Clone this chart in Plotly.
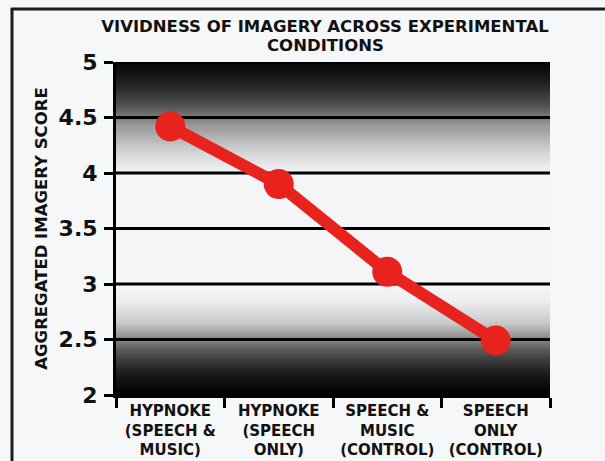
import numpy as np
import plotly.graph_objects as go

# ---- data ----
categories = ["Hypnoke (speech & music)", "Hypnoke (speech only)",
              "Speech & music (control)", "Speech only (control)"]
tick_labels = ["HYPNOKE<br>(SPEECH &<br>MUSIC)", "HYPNOKE<br>(SPEECH<br>ONLY)",
               "SPEECH &<br>MUSIC<br>(CONTROL)", "SPEECH<br>ONLY<br>(CONTROL)"]
scores = [4.42, 3.90, 3.11, 2.49]
y_ticks = [2, 2.5, 3, 3.5, 4, 4.5, 5]
title_lines = ["VIVIDNESS OF IMAGERY ACROSS EXPERIMENTAL", "CONDITIONS"]
y_title = "AGGREGATED IMAGERY SCORE"

# background gradient stops (value on y axis, colour)
grad_y = [2.0, 2.2, 2.4, 2.5, 2.65, 2.85, 3.0, 4.0, 4.2, 4.45, 4.6, 4.8, 5.0]
grad_c = ["#000000", "#1c1c1c", "#555555", "#858585", "#c8c8c8", "#eceef0",
          "#f3f5f7", "#f3f5f7", "#d2d2d2", "#939393", "#555555", "#222222", "#050505"]

FONT = "DejaVu Sans"
BG = "#f6f7f8"
TXT = "#111111"
W, H = 605, 461
ML, MR, MT, MB = 116, 55, 62, 66
PH = H - MT - MB
PW = W - ML - MR

colorscale = [[(g - 2.0) / 3.0, c] for g, c in zip(grad_y, grad_c)]
grid_rows = np.linspace(2.0, 5.0, 301)

fig = go.Figure()
# background gradient on the hidden numeric base axis
fig.add_trace(go.Heatmap(
    x=[0.25, 0.75], y=grid_rows,
    z=[[v, v] for v in grid_rows],
    colorscale=colorscale, zmin=2.0, zmax=5.0, showscale=False,
    hoverinfo="skip", zsmooth="best", xaxis="x", yaxis="y"))

# horizontal grid lines drawn over the gradient
gx, gy = [], []
for t in y_ticks:
    gx += [0, 1, None]
    gy += [t, t, None]
fig.add_trace(go.Scatter(x=gx, y=gy, mode="lines", line=dict(color="#000000", width=3),
                         hoverinfo="skip", showlegend=False, xaxis="x", yaxis="y"))

# data series on the category axis (overlaid, drawn on top)
fig.add_trace(go.Scatter(
    x=categories, y=scores, mode="lines+markers",
    line=dict(color="#e8221c", width=12),
    marker=dict(color="#e8221c", size=30, line=dict(width=0)),
    showlegend=False, xaxis="x2", yaxis="y"))


def py(p):
    """pixel row from top -> paper y"""
    return (H - MB - p) / PH


def px(p):
    return (p - ML) / PW


fig.update_layout(
    width=W, height=H,
    margin=dict(l=ML, r=MR, t=MT, b=MB),
    paper_bgcolor=BG, plot_bgcolor=BG,
    title=dict(text=title_lines[0],
               x=325 / W, xanchor="center", xref="container",
               y=1 - 26 / H, yanchor="middle", yref="container",
               font=dict(family=FONT, size=16.5, color=TXT, weight="bold")),
    annotations=[dict(text=title_lines[1], xref="paper", yref="paper",
                      x=px(325), y=py(46), xanchor="center", yanchor="middle",
                      showarrow=False,
                      font=dict(family=FONT, size=16.5, color=TXT, weight="bold"))],
    xaxis=dict(range=[0, 1], showticklabels=False, ticks="", showgrid=False,
               zeroline=False, showline=False, automargin=False, fixedrange=True),
    xaxis2=dict(type="category", categoryorder="array", categoryarray=categories,
                overlaying="x", side="bottom", anchor="y",
                tickvals=categories, ticktext=tick_labels,
                tickson="boundaries", ticks="outside", ticklen=10, tickwidth=3,
                tickcolor="#000000", showline=True, linecolor="#000000", linewidth=3,
                showgrid=False, range=[-0.5, 3.5], automargin=False,
                ticklabelstandoff=0,
                tickfont=dict(family=FONT, size=15, color=TXT, weight="bold")),
    yaxis=dict(range=[2, 5], tickvals=y_ticks, ticks="outside", ticklen=9, tickwidth=3,
               tickcolor="#000000", showline=True, linecolor="#000000", linewidth=3,
               showgrid=False, zeroline=False, automargin=False,
               ticklabelstandoff=2,
               tickfont=dict(family=FONT, size=22, color=TXT, weight="bold"),
               title=dict(text=y_title, standoff=7,
                          font=dict(family=FONT, size=16.5, color=TXT, weight="bold"))),
    shapes=[
        dict(type="line", xref="paper", yref="paper",
             x0=px(11), x1=px(606), y0=py(9), y1=py(9),
             line=dict(color="#1c1c1c", width=3)),
        dict(type="line", xref="paper", yref="paper",
             x0=px(12), x1=px(12), y0=py(8), y1=py(470),
             line=dict(color="#1c1c1c", width=3)),
    ],
)

fig.write_html("out.html", config={"displayModeBar": False},
               post_script="document.body.style.margin='0';"
                           "document.documentElement.style.margin='0';"
                           "document.body.style.overflow='hidden';")
